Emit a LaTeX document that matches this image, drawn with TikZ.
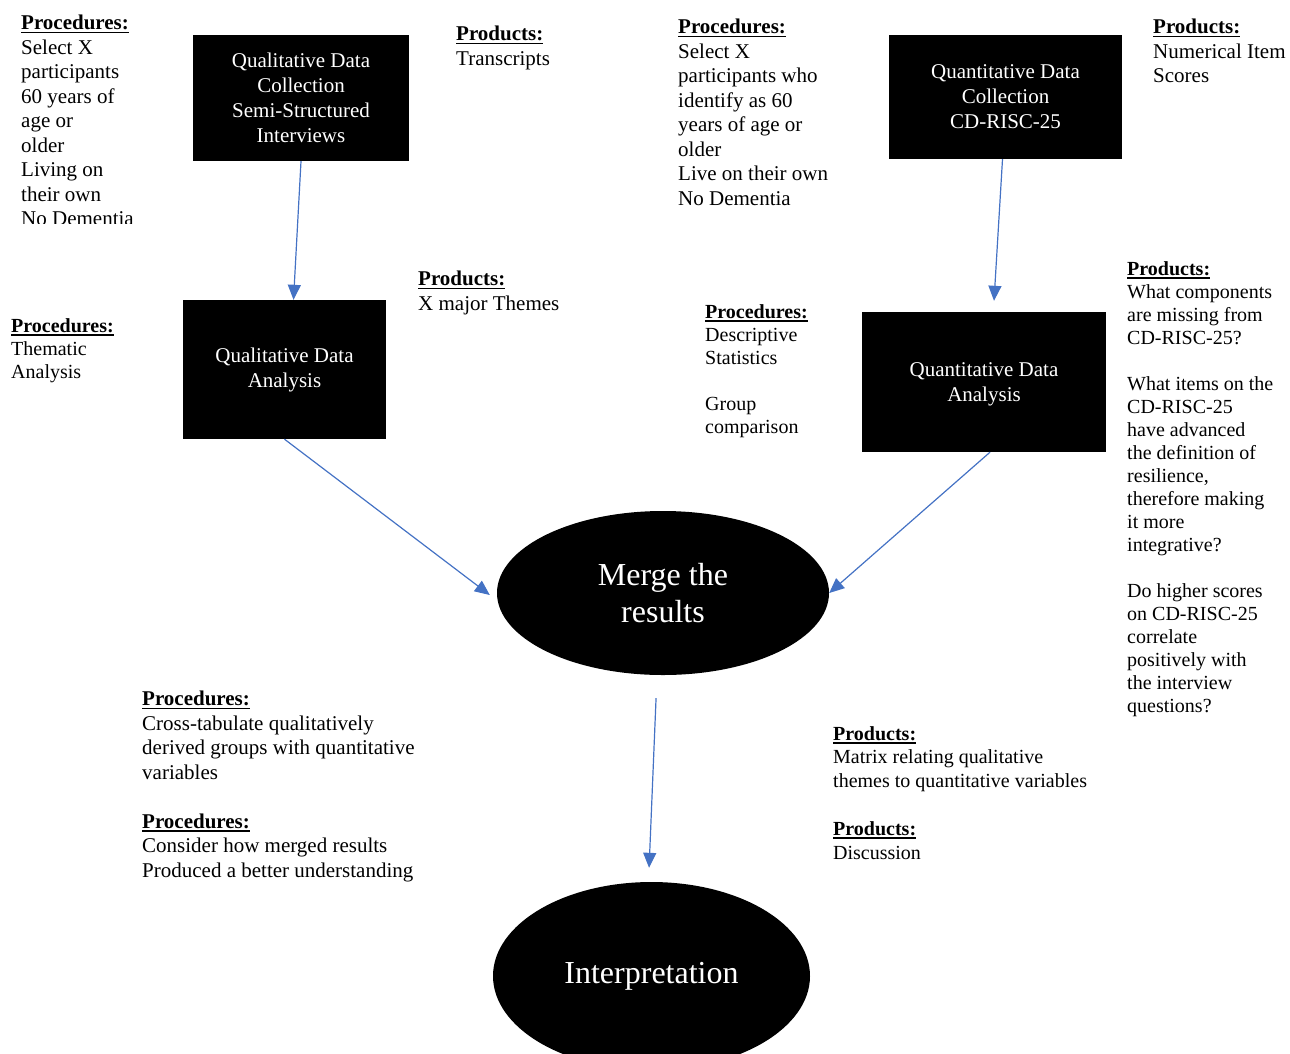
\documentclass[tikz,border=0pt]{standalone}
\usepackage{fontspec}
\setmainfont{Liberation Serif}
\usetikzlibrary{arrows.meta, shapes.geometric}

\definecolor{flowblue}{HTML}{4472C4}
\newcommand{\hdr}[1]{\setbox0\hbox{\bfseries #1}\rlap{\rule[-3.5pt]{\wd0}{1.6pt}}\box0}

\begin{document}
\begin{tikzpicture}[x=1pt, y=-1pt]
	\tikzstyle{box}=[fill=black, text=white, align=center, inner sep=0pt, font=\fontsize{21}{25}\selectfont]
	\tikzstyle{oval}=[ellipse, fill=black, text=white, align=center, inner sep=0pt, font=\fontsize{32}{37}\selectfont]
	\tikzstyle{note}=[anchor=north west, align=left, inner sep=0pt, font=\fontsize{21}{24.5}\selectfont]
	\tikzstyle{notesm}=[note, font=\fontsize{20}{23}\selectfont]
	\tikzstyle{flow}=[draw=flowblue, line width=1.2pt, -{Triangle[length=15pt, width=13pt]}]
	\path[use as bounding box, clip] (0,0) rectangle (1290,1053);

	% Steps of the design
	\node[box, minimum width=216pt, minimum height=126pt] (qualcoll) at (301,98) {Qualitative Data\\Collection\\Semi-Structured\\Interviews};
	\node[box, minimum width=203pt, minimum height=139pt] (qualana) at (284.5,369.5) {Qualitative Data\\Analysis};
	\node[box, minimum width=233pt, minimum height=124pt, text depth=-2pt] (quantcoll) at (1005.5,97) {Quantitative Data\\Collection\\CD-RISC-25};
	\node[box, minimum width=244pt, minimum height=140pt, text depth=-4pt] (quantana) at (984,382) {Quantitative Data\\Analysis};
	\node[oval, minimum width=332pt, minimum height=164pt] (merge) at (663,593) {Merge the\\results};
	\node[oval, minimum width=317pt, minimum height=188pt] (interp) at (651.5,976) {Interpretation};

	% Procedures and products beside each step
	\begin{scope}
		\clip (0,0) rectangle (190,223);
		\node[note] (procqualcoll) at (21,15) {\hdr{Procedures:}\\Select X\\participants\\60 years of\\age or\\older\\Living on\\their own\\No Dementia};
	\end{scope}
	\node[note] (prodqualcoll) at (456,26) {\hdr{Products:}\\Transcripts};
	\node[notesm] (procqualana) at (11,318) {\hdr{Procedures:}\\Thematic\\Analysis};
	\node[note] (prodqualana) at (418,271) {\hdr{Products:}\\X major Themes};
	\node[note] (procquantcoll) at (678,19) {\hdr{Procedures:}\\Select X\\participants who\\identify as 60\\years of age or\\older\\Live on their own\\No Dementia};
	\node[note] (prodquantcoll) at (1153,19) {\hdr{Products:}\\Numerical Item\\Scores};
	\node[notesm] (procquantana) at (705,304) {\hdr{Procedures:}\\Descriptive\\Statistics\\~\\Group\\comparison};
	\node[notesm] (prodquantana) at (1127,261) {\hdr{Products:}\\What components\\are missing from\\CD-RISC-25?\\~\\What items on the\\CD-RISC-25\\have advanced\\the definition of\\resilience,\\therefore making\\it more\\integrative?\\~\\Do higher scores\\on CD-RISC-25\\correlate\\positively with\\the interview\\questions?};
	\node[note] (procmerge) at (142,691) {\hdr{Procedures:}\\Cross-tabulate qualitatively\\derived groups with quantitative\\variables\\~\\\hdr{Procedures:}\\Consider how merged results\\Produced a better understanding};
	\node[notesm, font=\fontsize{20}{23.8}\selectfont] (prodmerge) at (833,726) {\hdr{Products:}\\Matrix relating qualitative\\themes to quantitative variables\\~\\\hdr{Products:}\\Discussion};

	% Arrows
	\draw[flow] (qualcoll.south) -- ([xshift=9pt]qualana.north);
	\draw[flow] ([xshift=-3pt]quantcoll.south) -- ([xshift=10pt, yshift=11pt]quantana.north);
	\draw[flow] (qualana.south) -- ([xshift=-7pt, yshift=-2pt]merge.west);
	\draw[flow] ([xshift=6pt]quantana.south) -- (merge.east);
	\draw[flow, shorten <=23pt, shorten >=14pt] ([xshift=-6pt]merge.south) -- ([xshift=-3pt]interp.north);
\end{tikzpicture}
\end{document}
